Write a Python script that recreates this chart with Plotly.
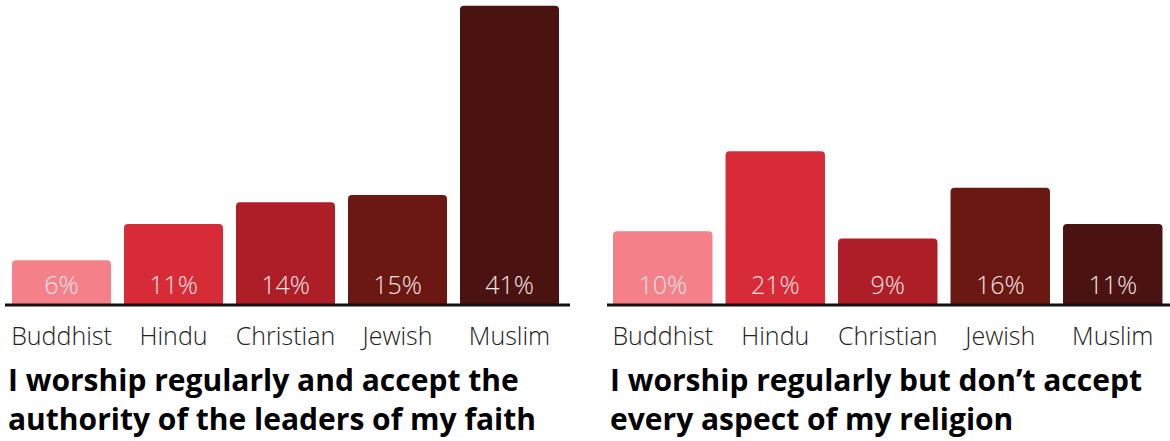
import plotly.graph_objects as go

# Share of respondents per faith, two worship attitudes
religions = ["Buddhist", "Hindu", "Christian", "Jewish", "Muslim"]
accept_leaders = [6, 11, 14, 15, 41]
not_every_aspect = [10, 21, 9, 16, 11]
bar_colors = ["#f4808a", "#d82b38", "#ad1e27", "#6a1811", "#4a1210"]
titles = [
    "I worship regularly and accept the<br>authority of the leaders of my faith",
    "I worship regularly but don’t accept<br>every aspect of my religion",
]

W, H = 1170, 441
PLOT_H = 304
left_dom = [5.5 / W, 565.5 / W]
right_dom = [606.5 / W, 1169 / W]
FONT = "Open Sans"

fig = go.Figure()
for i, vals in enumerate([accept_leaders, not_every_aspect]):
    sfx = "" if i == 0 else "2"
    fig.add_trace(go.Bar(
        x=religions,
        y=vals,
        xaxis="x" + sfx,
        yaxis="y" + sfx,
        marker=dict(color=bar_colors, line=dict(width=0)),
        text=[f"{v}%" for v in vals],
        textposition="inside",
        insidetextanchor="start",
        textangle=0,
        insidetextfont=dict(family=FONT, size=25, color="#f6e4e4", weight=300),
        cliponaxis=False,
        hoverinfo="skip",
    ))

axis_common = dict(
    showgrid=False, zeroline=False, showline=False, ticks="",
    ticklabelstandoff=15,
    tickfont=dict(family=FONT, size=25, color="#222", weight=300),
    fixedrange=True,
)
yaxis_common = dict(range=[0, 41.8], visible=False, fixedrange=True)

fig.update_layout(
    width=W, height=H,
    margin=dict(l=0, r=0, t=0, b=H - PLOT_H),
    paper_bgcolor="white", plot_bgcolor="white",
    showlegend=False,
    bargap=0.116,
    barcornerradius=4,
    xaxis=dict(domain=left_dom, anchor="y", **axis_common),
    xaxis2=dict(domain=right_dom, anchor="y2", **axis_common),
    yaxis=dict(anchor="x", **yaxis_common),
    yaxis2=dict(anchor="x2", **yaxis_common),
)

# Baselines under each panel
for x0, x1 in [(5, 570), (607, 1170)]:
    fig.add_shape(type="line", xref="paper", yref="paper",
                  x0=x0 / W, x1=x1 / W, y0=-1 / PLOT_H, y1=-1 / PLOT_H,
                  line=dict(color="#111", width=3))

# Panel captions below the category labels
title_x = [10 / W, 612 / W]
for tx, t in zip(title_x, titles):
    fig.add_annotation(
        text=t, xref="paper", yref="paper", x=tx,
        y=-(399 - PLOT_H) / PLOT_H,
        xanchor="left", yanchor="middle", align="left", showarrow=False,
        xshift=-3, borderpad=0,
        font=dict(family=FONT, size=30, color="#000", weight=700),
    )

fig.write_html("out.html")
